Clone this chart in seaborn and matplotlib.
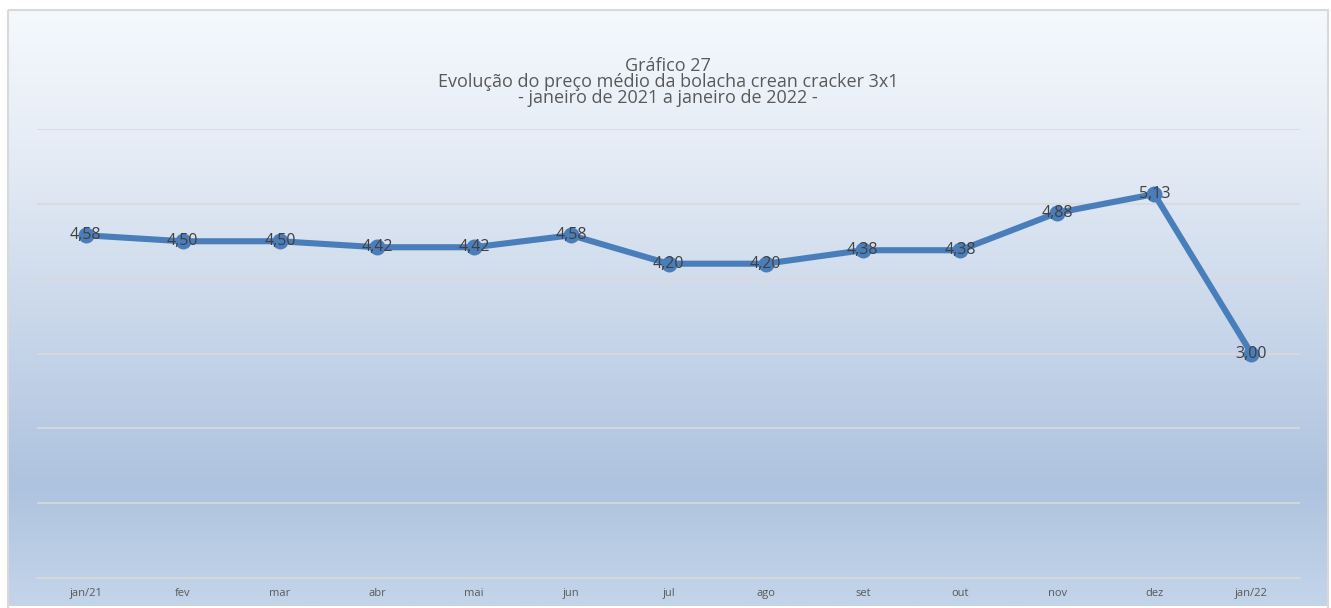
import numpy as np
import pandas as pd
import matplotlib
matplotlib.use("Agg")
import matplotlib.pyplot as plt
import seaborn as sns
from matplotlib.colors import LinearSegmentedColormap
from matplotlib.patches import Rectangle

# Data
meses = ["jan/21", "fev", "mar", "abr", "mai", "jun", "jul", "ago", "set", "out", "nov", "dez", "jan/22"]
precos = [4.58, 4.50, 4.50, 4.42, 4.42, 4.58, 4.20, 4.20, 4.38, 4.38, 4.88, 5.13, 3.00]
rotulos = ["4,58", "4,50", "4,50", "4,42", "4,42", "4,58", "4,20", "4,20", "4,38", "4,38", "4,88", "5,13", "3,00"]
titulo = "Gráfico 27\nEvolução do preço médio da bolacha crean cracker 3x1\n- janeiro de 2021 a janeiro de 2022 -"

df = pd.DataFrame({"mes": meses, "preco": precos, "pos": range(len(meses))})

sns.set_theme(style="white")
plt.rcParams["font.family"] = ["Open Sans", "DejaVu Sans"]

W, H = 1331, 608
fig = plt.figure(figsize=(W / 100, H / 100), dpi=100)

# gradient background for the chart area
bg = fig.add_axes([0, 0, 1, 1], zorder=0)
bg.set_xlim(0, W)
bg.set_ylim(H, 0)
bg.axis("off")
cmap = LinearSegmentedColormap.from_list(
    "grad", [(0.0, "#f5f9fd"), (0.25, "#e4ebf5"), (0.8, "#aec3df"), (1.0, "#c4d5ea")])
grad = np.linspace(0, 1, 256).reshape(-1, 1)
bg.imshow(grad, cmap=cmap, aspect="auto", extent=[8, 1328, 606, 10], zorder=0)
bg.add_patch(Rectangle((7.5, 9.5), 1320.5, 600, fill=False, edgecolor="#d9d9d9", linewidth=1.5, zorder=1))

ax = fig.add_axes([37 / W, 30 / H, (1300 - 37) / W, (578 - 129) / H], zorder=2)
ax.patch.set_alpha(0)

sns.lineplot(data=df, x="pos", y="preco", ax=ax, color="#4a7ebb", linewidth=4.4,
             marker="o", markersize=11.5, markeredgewidth=0, zorder=3)

for i, (v, lab) in enumerate(zip(precos, rotulos)):
    ax.text(i, v, lab, ha="center", va="center", fontsize=11.5, color="#404040", zorder=4)

ax.set_xlim(-0.5, len(meses) - 0.5)
ax.set_ylim(0, 6)
ax.set_yticks(range(0, 7))
ax.set_yticklabels([])
ax.tick_params(axis="y", length=0)
ax.grid(axis="y", color="#d9d9d9", linewidth=1.2)
ax.grid(axis="x", visible=False)
ax.set_xticks(range(len(meses)))
ax.set_xticklabels(meses, fontsize=8, color="#595959")
ax.tick_params(axis="x", length=0, pad=7)
ax.set_xlabel("")
ax.set_ylabel("")
for s in ["top", "left", "right"]:
    ax.spines[s].set_visible(False)
ax.spines["bottom"].set_color("#d9d9d9")
ax.spines["bottom"].set_linewidth(1.2)

# title, middle line centred at y~82 px
fig.text(668 / W, 1 - 82 / H, titulo, ha="center", va="center", fontsize=13, color="#595959",
         linespacing=0.86)

fig.savefig("out.png", dpi=100)
